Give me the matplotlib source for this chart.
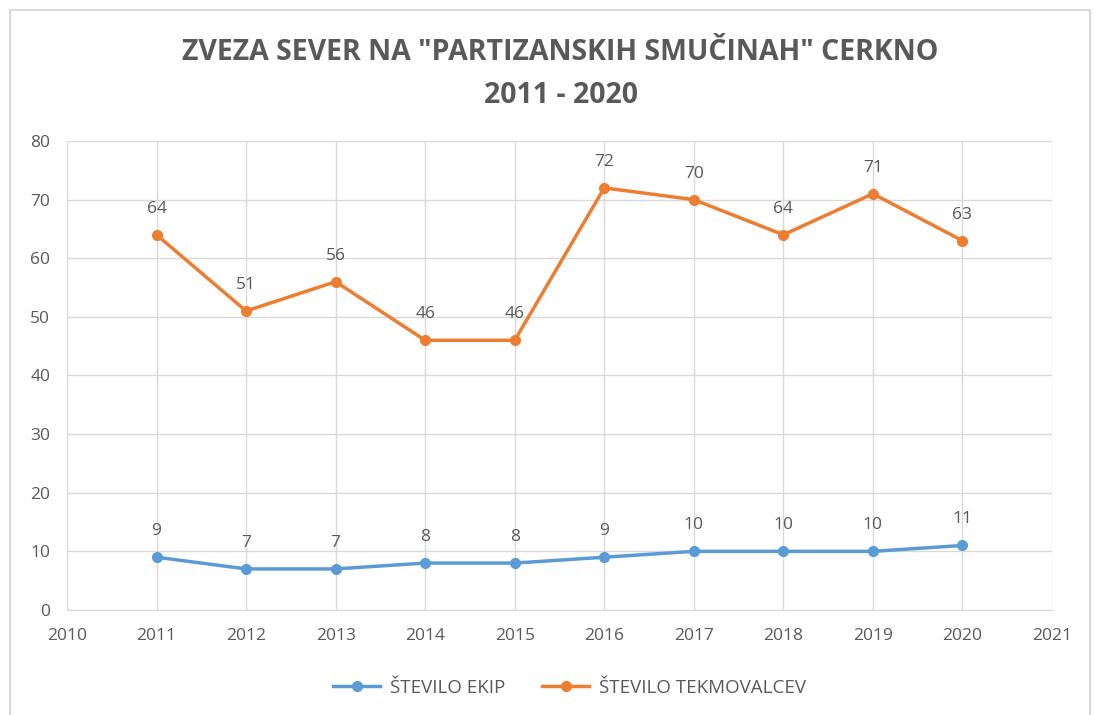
import matplotlib.pyplot as plt
from matplotlib.patches import Rectangle

years = [2011, 2012, 2013, 2014, 2015, 2016, 2017, 2018, 2019, 2020]
ekipe = [9, 7, 7, 8, 8, 9, 10, 10, 10, 11]
tekmovalci = [64, 51, 56, 46, 46, 72, 70, 64, 71, 63]

BLUE = "#5b9bd5"
ORANGE = "#ed7d31"
TEXT = "#595959"
GRID = "#d9d9d9"

plt.rcParams["font.family"] = ["Open Sans", "DejaVu Sans"]

fig = plt.figure(figsize=(10.95, 7.15), dpi=100)
fig.patches.append(Rectangle((10 / 1095, -0.05), 1080 / 1095, 1.05 - 10 / 715,
                             transform=fig.transFigure, fill=False,
                             edgecolor="#d9d9d9", linewidth=1.5))
ax = fig.add_axes([0.0612, 0.1469, 0.8995, 0.6559])

ax.plot(years, ekipe, "o-", color=BLUE, lw=2.5, ms=7, label="ŠTEVILO EKIP")
ax.plot(years, tekmovalci, "o-", color=ORANGE, lw=2.5, ms=7, label="ŠTEVILO TEKMOVALCEV")
for x, y in zip(years, ekipe):
    ax.annotate(str(y), (x, y), xytext=(0, 13), textcoords="offset points",
                ha="center", va="bottom", fontsize=12.5, color=TEXT)
for x, y in zip(years, tekmovalci):
    ax.annotate(str(y), (x, y), xytext=(0, 13), textcoords="offset points",
                ha="center", va="bottom", fontsize=12.5, color=TEXT)

ax.set_xlim(2010, 2021)
ax.set_ylim(0, 80)
ax.set_xticks(range(2010, 2022))
ax.set_yticks(range(0, 81, 10))
ax.grid(True, color=GRID, lw=1)
ax.set_axisbelow(True)
for s in ["top", "right", "left"]:
    ax.spines[s].set_visible(False)
ax.spines["bottom"].set_color(GRID)
ax.tick_params(length=0, colors=TEXT, labelsize=12.5, pad=13)
ax.tick_params(axis="y", pad=12)

fig.text(0.512, 0.926, 'ZVEZA SEVER NA "PARTIZANSKIH SMUČINAH" CERKNO',
         ha="center", va="center", fontsize=20.5, fontweight="bold", color=TEXT)
fig.text(0.512, 0.866, "2011 - 2020", ha="center", va="center",
         fontsize=20.5, fontweight="bold", color=TEXT)

fig.legend(loc="center", bbox_to_anchor=(0.52, 0.038), ncol=2, frameon=False,
           fontsize=13.5, labelcolor=TEXT, handlelength=2.5, columnspacing=2,
           handletextpad=0.5)

fig.savefig("out.png", dpi=100)
